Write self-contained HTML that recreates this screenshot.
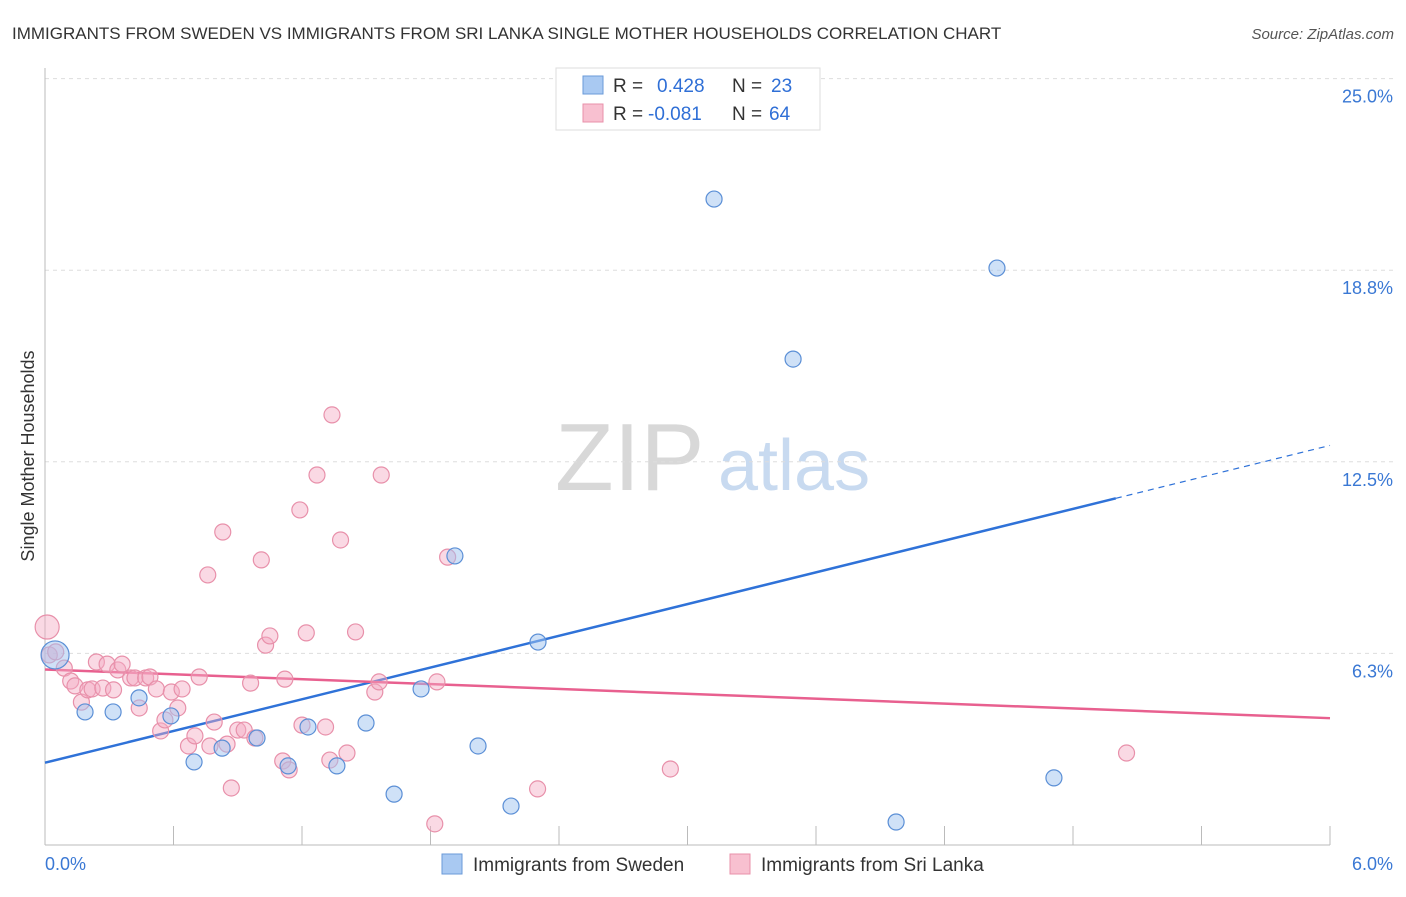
<!DOCTYPE html>
<html><head><meta charset="utf-8"><style>
body{margin:0;background:#fff;font-family:"Liberation Sans",sans-serif;}
svg text{font-family:"Liberation Sans",sans-serif;}
</style></head><body>
<svg id="chart" width="1406" height="892" viewBox="0 0 1406 892" xmlns="http://www.w3.org/2000/svg">
<text x="12" y="39" font-size="17" fill="#333">IMMIGRANTS FROM SWEDEN VS IMMIGRANTS FROM SRI LANKA SINGLE MOTHER HOUSEHOLDS CORRELATION CHART</text>
<text x="1394" y="39" font-size="15" fill="#555" text-anchor="end" font-style="italic">Source: ZipAtlas.com</text>
<g>
<text x="555" y="490" font-size="96" fill="#d8d8d8" font-family="Liberation Serif, serif">ZIP</text>
<text x="718" y="490" font-size="72" fill="#c8daf0">atlas</text>
</g>
<text transform="translate(34,456) rotate(-90)" font-size="18" fill="#333" text-anchor="middle">Single Mother Households</text>
<g id="grid"></g>
<g id="axes"></g>
<g id="lines"></g>
<g id="points"></g>
<g>
<rect x="556" y="68" width="264" height="62" fill="#fff" stroke="#ddd"/>
<rect x="583" y="76" width="20" height="18" fill="#a9c9f2" stroke="#6a9ad8"/>
<text x="613" y="92" font-size="19" fill="#333">R = </text><text x="657" y="92" font-size="19" fill="#2f6fd6">0.428</text>
<text x="732" y="92" font-size="19" fill="#333">N = </text><text x="771" y="92" font-size="19" fill="#2f6fd6">23</text>
<rect x="583" y="104" width="20" height="18" fill="#f8c0d0" stroke="#e890aa"/>
<text x="613" y="120" font-size="19" fill="#333">R = </text><text x="648" y="120" font-size="19" fill="#2f6fd6">-0.081</text>
<text x="732" y="120" font-size="19" fill="#333">N = </text><text x="769" y="120" font-size="19" fill="#2f6fd6">64</text>
</g>
<g>
<rect x="442" y="854" width="20" height="20" fill="#a9c9f2" stroke="#6a9ad8"/>
<text x="473" y="871" font-size="19" fill="#333">Immigrants from Sweden</text>
<rect x="730" y="854" width="20" height="20" fill="#f8c0d0" stroke="#e890aa"/>
<text x="761" y="871" font-size="19" fill="#333">Immigrants from Sri Lanka</text>
</g>
</svg>
<script>
const yTicks=[25.0,18.8,12.5,6.3];
const yTickVals=[25,18.75,12.5,6.25];
const xTickLabels=["0.0%","6.0%"];
const swedenX=[3.124,4.445,3.493,1.914,2.302,0.047,0.187,0.318,0.439,0.588,0.696,0.827,0.990,1.135,1.228,1.363,1.499,1.756,2.022,1.630,2.176,3.974,4.711];
const swedenY=[21.07,18.82,15.85,9.43,6.62,6.20,4.34,4.34,4.80,4.21,2.71,3.16,3.49,2.58,3.85,2.58,3.98,5.09,3.23,1.66,1.27,0.75,2.19];
const lankaX=[0.01,0.02,0.05,0.09,0.12,0.14,0.17,0.20,0.22,0.24,0.27,0.29,0.32,0.34,0.36,0.40,0.42,0.44,0.47,0.49,0.52,0.54,0.56,0.59,0.62,0.64,0.67,0.70,0.72,0.76,0.77,0.79,0.83,0.85,0.87,0.90,0.93,0.96,0.98,1.01,1.03,1.05,1.11,1.12,1.14,1.19,1.20,1.22,1.27,1.31,1.33,1.34,1.38,1.41,1.45,1.54,1.56,1.57,1.82,1.83,1.88,2.30,2.92,5.05];
const lankaY=[7.11,6.20,6.30,5.77,5.35,5.19,4.66,5.06,5.09,5.97,5.12,5.90,5.06,5.71,5.90,5.45,5.45,4.47,5.45,5.48,5.09,3.72,4.08,4.99,4.47,5.09,3.23,3.56,5.48,8.81,3.23,4.01,10.21,3.29,1.86,3.75,3.75,5.28,3.49,9.30,6.52,6.82,2.74,5.41,2.45,10.93,3.91,6.92,12.07,3.85,2.77,14.03,9.95,3.00,6.95,4.99,5.32,12.07,0.69,5.32,9.39,1.83,2.48,3.00];
const NS="http://www.w3.org/2000/svg";
const X0=45,X1=1330,Y0=845,YPER=191.6/6.25;
function sx(v){return X0+(v/6)*(X1-X0);}
function sy(v){return Y0-v*YPER;}
function mk(tag,attrs,parent){const e=document.createElementNS(NS,tag);for(const k in attrs)e.setAttribute(k,attrs[k]);parent.appendChild(e);return e;}
const grid=document.getElementById('grid'),axes=document.getElementById('axes'),lines=document.getElementById('lines'),pts=document.getElementById('points');
yTickVals.forEach((v,i)=>{
 const l=mk('line',{x1:X0,x2:1394,y1:sy(v),y2:sy(v),stroke:'#ddd','stroke-dasharray':'4,4'},grid);
 
 
 const t=mk('text',{x:1393,y:sy(v)+24,'font-size':18,fill:'#3a78d4','text-anchor':'end'},axes);
 t.textContent=yTicks[i].toFixed(1)+'%';
 
 
});
const ya=mk('line',{x1:X0,x2:X0,y1:68,y2:Y0,stroke:'#bbb'},axes);


const xa=mk('line',{x1:X0,x2:X1,y1:Y0,y2:Y0,stroke:'#bbb'},axes);


for(let i=0;i<=10;i++){
 const tk=mk('line',{x1:sx(i*0.6),x2:sx(i*0.6),y1:826,y2:Y0,stroke:'#bbb'},axes);
 
 
}
xTickLabels.forEach((s,i)=>{
 const t=mk('text',{x:i?1393:45,y:870,'font-size':18,fill:'#3a78d4','text-anchor':i?'end':'start'},axes);
 t.textContent=s;
 
 
});
function reg(xs,ys){const n=xs.length;let mx=0,my=0;for(let i=0;i<n;i++){mx+=xs[i];my+=ys[i];}mx/=n;my/=n;let a=0,b=0;for(let i=0;i<n;i++){a+=(xs[i]-mx)*(ys[i]-my);b+=(xs[i]-mx)**2;}const s=a/b;return [my-s*mx,s];}
const [ba,bb]=reg(swedenX,swedenY),[pa,pb]=reg(lankaX,lankaY);
const bl=mk('line',{x1:sx(0),y1:sy(ba),x2:sx(5),y2:sy(ba+bb*5),stroke:'#2f72d8','stroke-width':2.5},lines);


const bd=mk('line',{x1:sx(5),y1:sy(ba+bb*5),x2:sx(6),y2:sy(ba+bb*6),stroke:'#2f72d8','stroke-width':1.2,'stroke-dasharray':'6,5'},lines);


const pl=mk('line',{x1:sx(0),y1:sy(pa),x2:sx(6),y2:sy(pa+pb*6),stroke:'#e8608f','stroke-width':2.5},lines);


lankaX.forEach((x,i)=>{
 const c=mk('circle',{cx:sx(x),cy:sy(lankaY[i]),r:i===0?12:8,fill:'rgba(245,170,195,0.45)',stroke:'#e890aa','stroke-width':1.2},pts);
 
 
});
swedenX.forEach((x,i)=>{
 const c=mk('circle',{cx:sx(x),cy:sy(swedenY[i]),r:i===5?14:8,fill:'rgba(160,195,240,0.5)',stroke:'#5b8fd6','stroke-width':1.2},pts);
 
 
});
</script>
</body></html>
